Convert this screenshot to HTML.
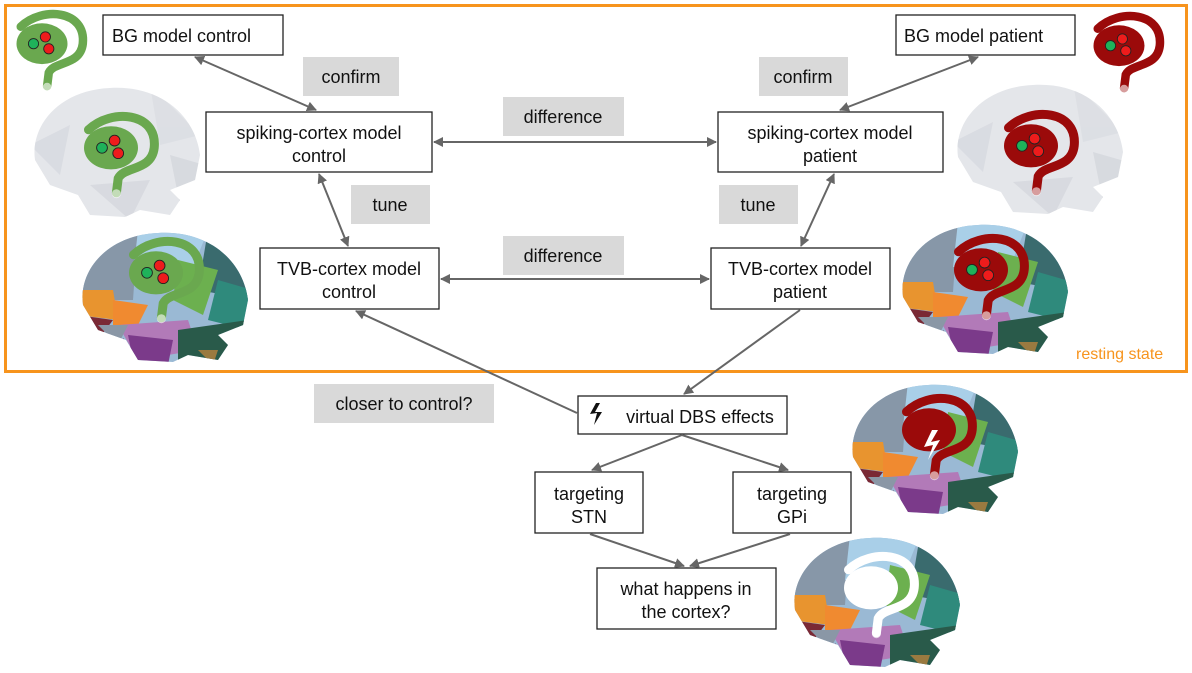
<!DOCTYPE html>
<html><head><meta charset="utf-8"><style>
html,body{margin:0;padding:0;background:#fff;}
svg{display:block;}
text{font-family:"Liberation Sans",Arial,sans-serif;font-size:18px;fill:#111;}
</style></head><body>
<svg width="1192" height="673" viewBox="0 0 1192 673" xmlns="http://www.w3.org/2000/svg">
<defs>
<marker id="ah" markerWidth="10" markerHeight="10" refX="9" refY="5" orient="auto-start-reverse" markerUnits="userSpaceOnUse">
<path d="M0,0 L10,5 L0,10 Z" fill="#666"/></marker>
<clipPath id="bc"><path d="M5,75 C0,40 30,5 80,3 C130,0 165,30 170,70 L165,95 L140,105 L150,115 L140,130 L110,125 L95,132 L60,130 L48,110 L20,100 Z"/></clipPath>
<g id="gray">
<path d="M5,75 C0,40 30,5 80,3 C130,0 165,30 170,70 L165,95 L140,105 L150,115 L140,130 L110,125 L95,132 L60,130 L48,110 L20,100 Z" fill="#e4e6ea"/>
<g clip-path="url(#bc)" opacity="0.6">
<polygon points="0,60 40,40 30,90" fill="#d3d6dc"/><polygon points="120,0 170,50 130,60" fill="#d8dbe0"/>
<polygon points="60,100 120,95 100,135" fill="#d0d3d9"/><polygon points="140,70 175,80 150,120" fill="#cfd2d8"/>
</g></g>
<g id="color">
<g clip-path="url(#bc)">
<rect x="0" y="0" width="175" height="135" fill="#9ab9d4"/>
<polygon points="0,20 60,0 55,70 0,70" fill="#8797a8"/>
<polygon points="60,0 130,0 110,50 55,45" fill="#a9cfe8"/>
<polygon points="130,0 175,20 175,70 120,60" fill="#3a6b6e"/>
<polygon points="100,30 140,40 125,85 95,70" fill="#6cb04f"/>
<polygon points="140,50 175,60 170,100 130,90" fill="#2f8a7c"/>
<polygon points="0,60 35,60 40,90 0,85" fill="#e8942f"/>
<polygon points="0,85 35,90 20,110" fill="#7a2935"/>
<polygon points="35,70 70,75 60,95 35,95" fill="#f08a30"/>
<polygon points="40,95 110,90 120,120 60,130" fill="#b27ab8"/>
<polygon points="50,105 95,110 90,135 55,130" fill="#7b3a8a"/>
<polygon points="45,108 60,135 40,135" fill="#6c2b4a"/>
<polygon points="100,100 170,90 150,135 100,135" fill="#295a4a"/>
<polygon points="120,120 140,120 135,135" fill="#9a7a40"/>
<polygon points="20,95 50,95 40,115" fill="#8a97a6"/>
</g></g>
<g id="spiral">
<ellipse cx="40" cy="42" rx="30" ry="24" fill="currentColor"/>
<path d="M15,22 C40,-2 92,2 88,42 C85,68 55,62 48,76 L46,92" fill="none" stroke="currentColor" stroke-width="10" stroke-linecap="round"/>
<circle cx="46" cy="93" r="5" fill="#fff" opacity="0.6"/>
</g>
<g id="dots">
<circle cx="30" cy="42" r="6" fill="#1fb25a" stroke="#222" stroke-width="1"/>
<circle cx="44" cy="34" r="6" fill="#ee1c1c" stroke="#222" stroke-width="1"/>
<circle cx="48" cy="48" r="6" fill="#ee1c1c" stroke="#222" stroke-width="1"/>
</g>
</defs>

<rect x="5.5" y="5.5" width="1181" height="366" fill="none" stroke="#f7941d" stroke-width="3"/>
<text x="1076" y="359" style="fill:#f7941d;font-size:16px">resting state</text>

<g transform="translate(8,8) scale(0.85)" style="color:#6aa84f"><use href="#spiral"/><use href="#dots"/></g>
<g transform="translate(30,85)"><use href="#gray"/></g>
<g transform="translate(75,110) scale(0.9)" style="color:#6aa84f"><use href="#spiral"/><use href="#dots"/></g>
<g transform="translate(78,230)"><use href="#color"/></g>
<g transform="translate(120,235) scale(0.9)" style="color:#6aa84f"><use href="#spiral"/><use href="#dots"/></g>

<g transform="translate(1085,10) scale(0.85)" style="color:#9b0a0a"><use href="#spiral"/><use href="#dots"/></g>
<g transform="translate(953,82)"><use href="#gray"/></g>
<g transform="translate(995,108) scale(0.9)" style="color:#9b0a0a"><use href="#spiral"/><use href="#dots"/></g>
<g transform="translate(898,222)"><use href="#color"/></g>
<g transform="translate(945,232) scale(0.9)" style="color:#9b0a0a"><use href="#spiral"/><use href="#dots"/></g>
<g transform="translate(848,382)"><use href="#color"/></g>
<g transform="translate(893,392) scale(0.9)" style="color:#9b0a0a"><use href="#spiral"/></g>
<path d="M932,430 L924,447 L933,445 L928,460 L940,440 L931,442 L938,430 Z" fill="#fff"/>
<g transform="translate(790,535)"><use href="#color"/></g>
<g transform="translate(835,550) scale(0.9)" style="color:#fff"><use href="#spiral"/></g>

<g fill="#d9d9d9">
<rect x="303" y="57" width="96" height="39"/><rect x="759" y="57" width="89" height="39"/>
<rect x="503" y="97" width="121" height="39"/><rect x="351" y="185" width="79" height="39"/>
<rect x="719" y="185" width="79" height="39"/><rect x="503" y="236" width="121" height="39"/>
<rect x="314" y="384" width="180" height="39"/>
</g>
<g text-anchor="middle">
<text x="351" y="83">confirm</text><text x="803" y="83">confirm</text>
<text x="563" y="123">difference</text><text x="390" y="211">tune</text>
<text x="758" y="211">tune</text><text x="563" y="262">difference</text>
<text x="404" y="410">closer to control?</text>
</g>

<g fill="#fff" stroke="#222" stroke-width="1.3">
<rect x="103" y="15" width="180" height="40"/><rect x="896" y="15" width="179" height="40"/>
<rect x="206" y="112" width="226" height="60"/><rect x="718" y="112" width="225" height="60"/>
<rect x="260" y="248" width="179" height="61"/><rect x="711" y="248" width="179" height="61"/>
<rect x="578" y="396" width="209" height="38"/>
<rect x="535" y="472" width="108" height="61"/><rect x="733" y="472" width="118" height="61"/>
<rect x="597" y="568" width="179" height="61"/>
</g>
<text x="112" y="42">BG model control</text><text x="904" y="42">BG model patient</text>
<g text-anchor="middle">
<text x="319" y="139">spiking-cortex model</text><text x="319" y="162">control</text>
<text x="830" y="139">spiking-cortex model</text><text x="830" y="162">patient</text>
<text x="349" y="275">TVB-cortex model</text><text x="349" y="298">control</text>
<text x="800" y="275">TVB-cortex model</text><text x="800" y="298">patient</text>
<text x="700" y="423">virtual DBS effects</text>
<text x="589" y="500">targeting</text><text x="589" y="523">STN</text>
<text x="792" y="500">targeting</text><text x="792" y="523">GPi</text>
<text x="686" y="595">what happens in</text><text x="686" y="618">the cortex?</text>
</g>
<path d="M596,403 L590,414 L597,413 L594,425 L602,412 L595,412 L600,403 Z" fill="#111"/>

<g stroke="#666" stroke-width="2" fill="none">
<line x1="195" y1="57" x2="316" y2="110" marker-start="url(#ah)" marker-end="url(#ah)"/>
<line x1="978" y1="57" x2="840" y2="110" marker-start="url(#ah)" marker-end="url(#ah)"/>
<line x1="434" y1="142" x2="716" y2="142" marker-start="url(#ah)" marker-end="url(#ah)"/>
<line x1="319" y1="174" x2="348" y2="246" marker-start="url(#ah)" marker-end="url(#ah)"/>
<line x1="834" y1="174" x2="801" y2="246" marker-start="url(#ah)" marker-end="url(#ah)"/>
<line x1="441" y1="279" x2="709" y2="279" marker-start="url(#ah)" marker-end="url(#ah)"/>
<line x1="800" y1="310" x2="684" y2="394" marker-end="url(#ah)"/>
<line x1="577" y1="413" x2="356" y2="311" marker-end="url(#ah)"/>
<line x1="682" y1="435" x2="592" y2="470" marker-end="url(#ah)"/>
<line x1="682" y1="435" x2="788" y2="470" marker-end="url(#ah)"/>
<line x1="590" y1="534" x2="684" y2="566" marker-end="url(#ah)"/>
<line x1="790" y1="534" x2="690" y2="566" marker-end="url(#ah)"/>
</g>
</svg>
</body></html>
